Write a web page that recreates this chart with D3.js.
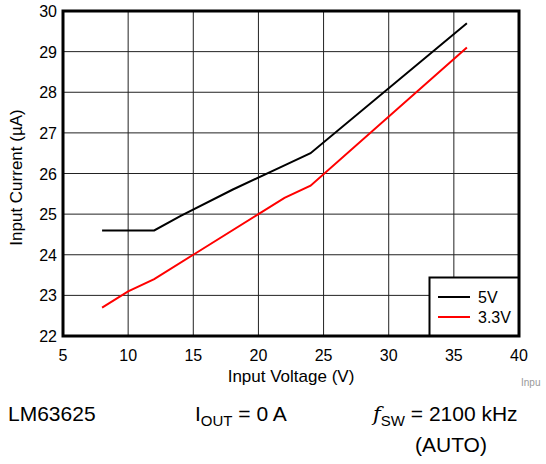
<!DOCTYPE html>
<html>
<head>
<meta charset="UTF-8">
<script src="https://d3js.org/d3.v7.min.js"></script>
<style>
  body { margin: 0; padding: 0; background: #fff; }
  svg text { font-family: "Liberation Sans", Arial, sans-serif; }
</style>
</head>
<body>
<div id="chart"></div>
<script>
// data
const seriesNames = ["5V", "3.3V"];
const seriesColors = ["#000000", "#ff0000"];
const vin5V = [8, 12, 14, 18, 22, 24, 36];
const iq5V = [24.6, 24.6, 24.95, 25.6, 26.2, 26.5, 29.7];
const vin33V = [8, 10, 12, 15, 20, 22, 24, 36];
const iq33V = [22.7, 23.1, 23.4, 24.0, 25.0, 25.4, 25.7, 29.1];
const xTicks = [5, 10, 15, 20, 25, 30, 35, 40];
const yTicks = [22, 23, 24, 25, 26, 27, 28, 29, 30];

const width = 546, height = 464;
const margin = { top: 11, right: 27, bottom: 128, left: 63 };

const svg = d3.select("#chart").append("svg")
  .attr("width", width)
  .attr("height", height);

const x = d3.scaleLinear().domain([5, 40]).range([margin.left, width - margin.right]);
const y = d3.scaleLinear().domain([22, 30]).range([height - margin.bottom, margin.top]);

// grid
svg.append("g").selectAll("line").data(xTicks.slice(1, -1)).enter().append("line")
  .attr("x1", d => x(d)).attr("x2", d => x(d))
  .attr("y1", y(22)).attr("y2", y(30))
  .attr("stroke", "#222").attr("stroke-width", 1);
svg.append("g").selectAll("line").data(yTicks.slice(1, -1)).enter().append("line")
  .attr("y1", d => y(d)).attr("y2", d => y(d))
  .attr("x1", x(5)).attr("x2", x(40))
  .attr("stroke", "#222").attr("stroke-width", 1);

// tick labels
svg.append("g").selectAll("text").data(xTicks).enter().append("text")
  .attr("x", d => x(d)).attr("y", y(22) + 25)
  .attr("text-anchor", "middle").attr("font-size", 16)
  .text(d => d);
svg.append("g").selectAll("text").data(yTicks).enter().append("text")
  .attr("x", x(5) - 6).attr("y", d => y(d) + 6)
  .attr("text-anchor", "end").attr("font-size", 16)
  .text(d => d);

// series
const line = d3.line().x(d => x(d[0])).y(d => y(d[1]));
const series = [d3.zip(vin5V, iq5V), d3.zip(vin33V, iq33V)];
series.forEach((pts, i) => {
  svg.append("path").datum(pts)
    .attr("d", line)
    .attr("fill", "none")
    .attr("stroke", seriesColors[i])
    .attr("stroke-width", 2);
});

// legend
const lg = svg.append("g");
lg.append("rect")
  .attr("x", 429.5).attr("y", 277.5)
  .attr("width", x(40) - 429.5).attr("height", y(22) - 277.5)
  .attr("fill", "#fff").attr("stroke", "#000").attr("stroke-width", 2);
seriesNames.forEach((n, i) => {
  const ly = 297 + i * 20;
  lg.append("line").attr("x1", 438).attr("x2", 470).attr("y1", ly).attr("y2", ly)
    .attr("stroke", seriesColors[i]).attr("stroke-width", 2);
  lg.append("text").attr("x", 478).attr("y", ly + 6).attr("font-size", 16).text(n);
});

// frame
svg.append("rect")
  .attr("x", x(5)).attr("y", y(30))
  .attr("width", x(40) - x(5)).attr("height", y(22) - y(30))
  .attr("fill", "none").attr("stroke", "#000").attr("stroke-width", 3);

// axis titles
svg.append("text")
  .attr("x", (x(5) + x(40)) / 2).attr("y", 382)
  .attr("text-anchor", "middle").attr("font-size", 17)
  .text("Input Voltage (V)");
svg.append("text")
  .attr("transform", `translate(22, ${(y(22) + y(30)) / 2 + 4}) rotate(-90)`)
  .attr("text-anchor", "middle").attr("font-size", 17)
  .text("Input Current (µA)");

svg.append("text")
  .attr("x", 521).attr("y", 386).attr("font-size", 10).attr("fill", "#999")
  .text("Inpu");

// conditions
svg.append("text").attr("x", 8).attr("y", 421).attr("font-size", 21).text("LM63625");
const iout = svg.append("text").attr("x", 195).attr("y", 421).attr("font-size", 21);
iout.append("tspan").text("I");
iout.append("tspan").attr("font-size", 15).attr("dy", 5).text("OUT");
iout.append("tspan").attr("dy", -5).text(" = 0 A");
const fsw = svg.append("text").attr("x", 373).attr("y", 421).attr("font-size", 21);
fsw.append("tspan").attr("font-family", "'DejaVu Serif', 'Liberation Serif', serif")
  .attr("font-style", "italic").text("f");
fsw.append("tspan").attr("font-size", 15).attr("dy", 5).text("SW");
fsw.append("tspan").attr("dy", -5).text(" = 2100 kHz");
svg.append("text").attr("x", 415).attr("y", 452).attr("font-size", 21).text("(AUTO)");
</script>
</body>
</html>
